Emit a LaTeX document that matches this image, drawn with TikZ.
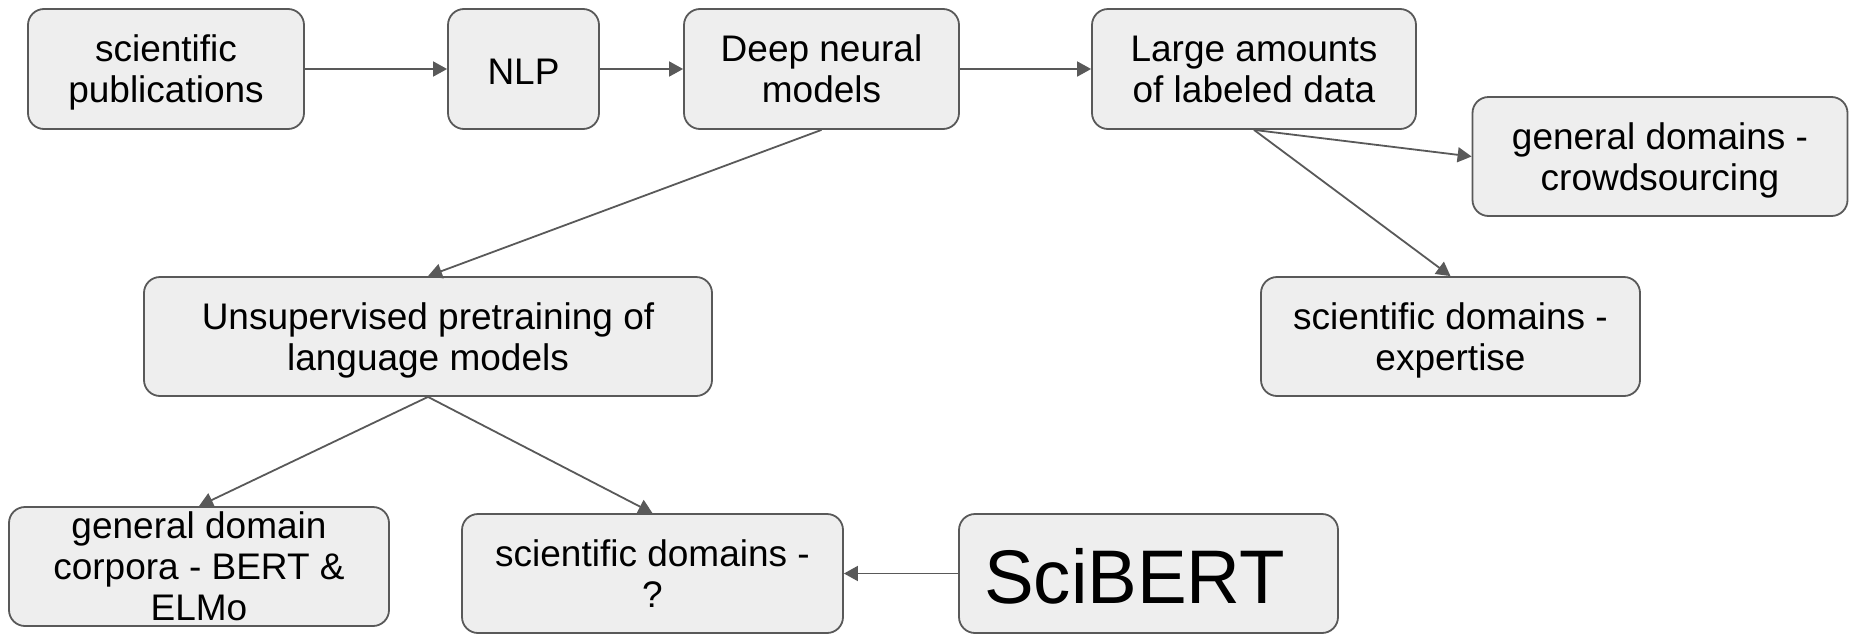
\documentclass[tikz,border=0pt]{standalone}
\usepackage{fontspec}
\setmainfont{Liberation Sans}
\usetikzlibrary{arrows.meta}
\definecolor{boxfill}{HTML}{EEEEEE}
\definecolor{edgegray}{HTML}{595959}

\begin{document}
\begin{tikzpicture}[x=1pt, y=-1pt,
  box/.style={draw=edgegray, fill=boxfill, line width=1.8pt, rounded corners=16pt,
    inner sep=0pt, align=center, minimum height=120pt, text depth=0pt,
    font=\fontsize{37}{41}\selectfont},
  bigtext/.style={inner sep=0pt, text depth=0pt, font=\fontsize{76}{84}\selectfont},
  link/.style={draw=edgegray, line width=1.8pt, -{Triangle[length=14pt,width=15pt]}},
]
\useasboundingbox (0,0) rectangle (1849,635);

% top row
\node[box, minimum width=276pt] (pub)   at (166,69)   {scientific\\publications};
\node[box, minimum width=151pt, text height=31pt] (nlp) at (523.5,69) {NLP};
\node[box, minimum width=275pt] (deep)  at (821.5,69) {Deep neural\\models};
\node[box, minimum width=324pt] (large) at (1254,69)  {Large amounts\\of labeled data};

% labeled-data branches
\node[box, minimum width=375pt, minimum height=119pt] (crowd) at (1660,156.5) {general domains -\\crowdsourcing};
\node[box, minimum width=379pt, minimum height=119pt] (expert) at (1450.5,336.5) {scientific domains -\\expertise};

% pretraining branch
\node[box, minimum width=568pt, minimum height=119pt] (unsup) at (428,336.5) {Unsupervised pretraining of\\language models};
\node[box, minimum width=380pt, minimum height=119pt] (gdc) at (199,566.5) {general domain\\corpora - BERT \&\\ELMo};
\node[box, minimum width=381pt, minimum height=119pt] (sciq) at (652.5,573.5) {scientific domains -\\?};
\node[box, minimum width=379pt, minimum height=119pt] (scibert) at (1148.5,573.5) {};
\node[bigtext] (scibertlabel) at ([xshift=-14pt, yshift=-2pt]scibert.center)
  {\scalebox{0.98}[1]{SciBERT}};

% connectors
\draw[link] (pub) -- (nlp);
\draw[link] (nlp) -- (deep);
\draw[link] (deep) -- (large);
\draw[link] (deep.south) -- (unsup.north);
\draw[link] (large.south) -- (crowd.west);
\draw[link] (large.south) -- (expert.north);
\draw[link] (unsup.south) -- (gdc.north);
\draw[link] (unsup.south) -- (sciq.north);
\draw[link] (scibert) -- (sciq);
\end{tikzpicture}
\end{document}
